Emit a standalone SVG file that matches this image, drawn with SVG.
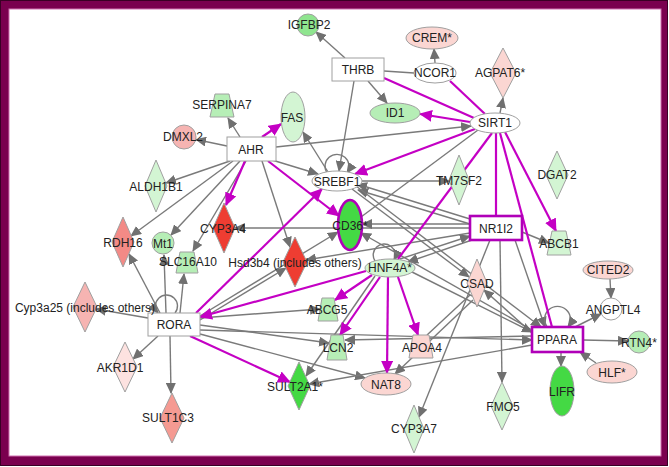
<svg xmlns="http://www.w3.org/2000/svg" width="669" height="467" viewBox="0 0 669 467">
<style>
text{font-family:"Liberation Sans",Arial,sans-serif;font-size:12px;fill:#222;text-anchor:middle}
.g{stroke:#7a7a7a;stroke-width:1.4;fill:none}
.m{stroke:#c400c4;stroke-width:2.2;fill:none}
.n{stroke:#a0a0a0;stroke-width:1}
.pb{stroke:#b000b8;stroke-width:2.6}
.w{fill:#fff}
.lg{fill:#d3f5d3}
.mg{fill:#b6eeb6}
.bg{fill:#44d944}
.rd{fill:#ee3d32}
.sa{fill:#f38a86}
.pk{fill:#fbd6d2}
.pk2{fill:#f6b4b2}
</style>
<defs>
<marker id="ag" markerUnits="userSpaceOnUse" markerWidth="11" markerHeight="10" refX="10" refY="5" orient="auto"><path d="M0,0 L11,5 L0,10 z" fill="#707070"/></marker>
<marker id="am" markerUnits="userSpaceOnUse" markerWidth="13" markerHeight="12" refX="12" refY="6" orient="auto"><path d="M0,0 L13,6 L0,12 z" fill="#c400c4"/></marker>
</defs>
<rect x="0.5" y="0.5" width="667" height="465" fill="#7a004f" stroke="#3a0025"/>
<rect x="9" y="9" width="652" height="447" fill="#fff" stroke="#d070b0" stroke-width="1"/>
<g id="connectors">
<line class="g" x1="345" y1="58" x2="316" y2="32" marker-end="url(#ag)"/>
<line class="g" x1="368" y1="81" x2="387" y2="103" marker-end="url(#ag)"/>
<line class="g" x1="384" y1="71" x2="414" y2="73"/>
<line class="g" x1="435" y1="63" x2="434" y2="49" marker-end="url(#ag)"/>
<line class="g" x1="500" y1="113" x2="503" y2="98" marker-end="url(#ag)"/>
<line class="g" x1="354" y1="81" x2="339" y2="171" marker-end="url(#ag)"/>
<line class="g" x1="240" y1="137" x2="228" y2="118" marker-end="url(#ag)"/>
<line class="g" x1="227" y1="146" x2="196" y2="139.5" marker-end="url(#ag)"/>
<line class="g" x1="276" y1="147" x2="471" y2="126" marker-end="url(#ag)"/>
<line class="g" x1="272" y1="160" x2="318" y2="174" marker-end="url(#ag)"/>
<line class="g" x1="230" y1="161" x2="166" y2="183" marker-end="url(#ag)"/>
<line class="g" x1="233" y1="161" x2="131" y2="236" marker-end="url(#ag)"/>
<line class="g" x1="240" y1="161" x2="171" y2="235" marker-end="url(#ag)"/>
<line class="g" x1="246" y1="161" x2="193" y2="251" marker-end="url(#ag)"/>
<line class="g" x1="262" y1="161" x2="290" y2="247" marker-end="url(#ag)"/>
<line class="g" x1="328" y1="172" x2="303" y2="132" marker-end="url(#ag)"/>
<line class="g" x1="362" y1="181" x2="449" y2="181" marker-end="url(#ag)"/>
<path class="g" d="M327 173 A12 12 0 1 1 347 173" marker-end="url(#ag)"/>
<line class="g" x1="470" y1="219" x2="357" y2="184" marker-end="url(#ag)"/>
<line class="g" x1="470" y1="224" x2="358" y2="190" marker-end="url(#ag)"/>
<line class="g" x1="352" y1="189" x2="469" y2="277" marker-end="url(#ag)"/>
<line class="g" x1="356" y1="186" x2="541" y2="327" marker-end="url(#ag)"/>
<line class="g" x1="470" y1="228" x2="235" y2="228" marker-end="url(#ag)"/>
<line class="g" x1="470" y1="224" x2="362" y2="224" marker-end="url(#ag)"/>
<line class="g" x1="522" y1="232" x2="549" y2="243" marker-end="url(#ag)"/>
<line class="g" x1="472" y1="240" x2="408" y2="262" marker-end="url(#ag)"/>
<line class="g" x1="400" y1="259" x2="470" y2="236" marker-end="url(#ag)"/>
<line class="g" x1="500" y1="240" x2="502" y2="382" marker-end="url(#ag)"/>
<line class="g" x1="490" y1="240" x2="419" y2="417" marker-end="url(#ag)"/>
<line class="g" x1="515" y1="240" x2="545" y2="327" marker-end="url(#ag)"/>
<line class="g" x1="470" y1="233" x2="306" y2="260" marker-end="url(#ag)"/>
<line class="g" x1="478" y1="130" x2="361" y2="217"/>
<path class="g" d="M375 261 A11 11 0 1 1 394 260" marker-end="url(#ag)"/>
<line class="g" x1="532" y1="330" x2="361" y2="233" marker-end="url(#ag)"/>
<line class="g" x1="532" y1="333" x2="484" y2="290" marker-end="url(#ag)"/>
<line class="g" x1="412" y1="272" x2="532" y2="332" marker-end="url(#ag)"/>
<line class="g" x1="575" y1="327" x2="601" y2="314" marker-end="url(#ag)"/>
<line class="g" x1="610" y1="279" x2="611" y2="298" marker-end="url(#ag)"/>
<line class="g" x1="583" y1="340" x2="628" y2="341" marker-end="url(#ag)"/>
<line class="g" x1="596" y1="363" x2="580" y2="352" marker-end="url(#ag)"/>
<line class="g" x1="561" y1="352" x2="561" y2="366" marker-end="url(#ag)"/>
<path class="g" d="M547 327 A13 13 0 1 1 568 327" marker-end="url(#ag)"/>
<line class="g" x1="148" y1="318" x2="96" y2="309" marker-end="url(#ag)"/>
<path class="g" d="M175 313 A11 11 0 1 0 158 313" marker-end="url(#ag)"/>
<line class="g" x1="160" y1="313" x2="129" y2="254" marker-end="url(#ag)"/>
<line class="g" x1="166" y1="313" x2="164" y2="255" marker-end="url(#ag)"/>
<line class="g" x1="180" y1="313" x2="184" y2="274" marker-end="url(#ag)"/>
<line class="g" x1="158" y1="336" x2="133" y2="359" marker-end="url(#ag)"/>
<line class="g" x1="170" y1="336" x2="171" y2="393" marker-end="url(#ag)"/>
<line class="g" x1="200" y1="318" x2="320" y2="309" marker-end="url(#ag)"/>
<line class="g" x1="200" y1="325" x2="329" y2="343" marker-end="url(#ag)"/>
<line class="g" x1="200" y1="330" x2="532" y2="340" marker-end="url(#ag)"/>
<line class="g" x1="200" y1="334" x2="365" y2="378" marker-end="url(#ag)"/>
<line class="g" x1="200" y1="316" x2="338" y2="232" marker-end="url(#ag)"/>
<line class="g" x1="200" y1="320" x2="286" y2="268" marker-end="url(#ag)"/>
<line class="g" x1="375" y1="276" x2="306" y2="376" marker-end="url(#ag)"/>
<line class="g" x1="532" y1="345" x2="309" y2="384" marker-end="url(#ag)"/>
<line class="g" x1="473" y1="300" x2="395" y2="374" marker-end="url(#ag)"/>
<line class="g" x1="470" y1="295" x2="427" y2="335"/>
<line class="g" x1="532" y1="336" x2="345" y2="340" marker-end="url(#ag)"/>
<line class="m" x1="470" y1="122" x2="420" y2="114" marker-end="url(#am)"/>
<line class="m" x1="474" y1="118" x2="384" y2="78"/>
<line class="m" x1="485" y1="114" x2="450" y2="81"/>
<line class="m" x1="475" y1="129" x2="355" y2="174" marker-end="url(#am)"/>
<line class="m" x1="492" y1="133" x2="398" y2="259"/>
<line class="m" x1="496" y1="133" x2="496" y2="216"/>
<line class="m" x1="505" y1="132" x2="556" y2="231" marker-end="url(#am)"/>
<line class="m" x1="500" y1="133" x2="552" y2="327"/>
<line class="m" x1="262" y1="137" x2="281" y2="124" marker-end="url(#am)"/>
<line class="m" x1="245" y1="161" x2="226" y2="205" marker-end="url(#am)"/>
<line class="m" x1="268" y1="161" x2="339" y2="216" marker-end="url(#am)"/>
<line class="m" x1="196" y1="313" x2="322" y2="189" marker-end="url(#am)"/>
<line class="m" x1="366" y1="271" x2="200" y2="317" marker-end="url(#am)"/>
<line class="m" x1="372" y1="275" x2="335" y2="300" marker-end="url(#am)"/>
<line class="m" x1="380" y1="277" x2="340" y2="335" marker-end="url(#am)"/>
<line class="m" x1="388" y1="277" x2="387" y2="373" marker-end="url(#am)"/>
<line class="m" x1="398" y1="277" x2="418" y2="335" marker-end="url(#am)"/>
<line class="m" x1="190" y1="336" x2="290" y2="382" marker-end="url(#am)"/>
</g>
<g id="IGFBP2"><circle class="n mg" cx="308" cy="25" r="11" style="fill:#8fe58f"/><text x="309" y="29">IGFBP2</text></g>
<g id="THRB"><rect class="n w" x="332" y="58" width="52" height="23"/><text x="358" y="74">THRB</text></g>
<g id="CREM"><ellipse class="n pk" cx="432" cy="38" rx="26" ry="11"/><text x="432" y="42">CREM*</text></g>
<g id="NCOR1"><ellipse class="n w" cx="435" cy="73" rx="21" ry="10"/><text x="435" y="77">NCOR1</text></g>
<g id="AGPAT6"><path class="n pk" d="M503 48 L516 73 L503 98 L490 73 Z"/><text x="500" y="77">AGPAT6*</text></g>
<g id="ID1"><ellipse class="n mg" cx="395" cy="113" rx="25" ry="10"/><text x="395" y="117">ID1</text></g>
<g id="SIRT1"><ellipse class="n w" cx="495" cy="123" rx="25" ry="10"/><text x="495" y="127">SIRT1</text></g>
<g id="SERPINA7"><path class="n mg" d="M215 94 L229 94 L234 117 L210 117 Z"/><text x="222" y="109">SERPINA7</text></g>
<g id="FAS"><ellipse class="n lg" cx="293" cy="117" rx="12" ry="25"/><text x="292" y="122">FAS</text></g>
<g id="DMXL2"><circle class="n pk2" cx="184" cy="137" r="12"/><text x="183" y="141">DMXL2</text></g>
<g id="AHR"><rect class="n w" x="227" y="137" width="49" height="24"/><text x="251" y="154">AHR</text></g>
<g id="SREBF1"><ellipse class="n w" cx="337" cy="181" rx="25" ry="10"/><text x="337" y="186">SREBF1</text></g>
<g id="TM7SF2"><path class="n lg" d="M459 155 L469 180 L459 205 L449 180 Z"/><text x="459" y="185">TM7SF2</text></g>
<g id="DGAT2"><path class="n lg" d="M557 151 L568 175 L557 199 L546 175 Z"/><text x="557" y="179">DGAT2</text></g>
<g id="ALDH1B1"><path class="n lg" d="M156 160 L167 186 L156 212 L145 186 Z"/><text x="156" y="191">ALDH1B1</text></g>
<g id="RDH16"><path class="n sa" d="M123 217 L134 242 L123 267 L112 242 Z"/><text x="123" y="247">RDH16</text></g>
<g id="Mt1"><circle class="n mg" cx="163" cy="243" r="11"/><text x="163" y="248">Mt1</text></g>
<g id="SLC16A10"><path class="n mg" d="M180 252 L194 252 L198 273 L176 273 Z"/><text x="188" y="266">SLC16A10</text></g>
<g id="CYP3A4"><path class="n rd" d="M224 203 L235 228 L224 253 L213 228 Z"/><text x="223" y="233">CYP3A4</text></g>
<g id="CD36"><ellipse class="pb bg" cx="350" cy="225" rx="12" ry="25"/><text x="350" y="230">CD36*</text></g>
<g id="Hsd3b4"><path class="n rd" d="M295 237 L307 262 L295 287 L283 262 Z"/><text x="295" y="267">Hsd3b4 (includes others)</text></g>
<g id="NR1I2"><rect class="pb w" x="470" y="216" width="52" height="24"/><text x="496" y="233">NR1I2</text></g>
<g id="ABCB1"><path class="n lg" d="M552 231 L566 231 L571 255 L547 255 Z"/><text x="559" y="248">ABCB1</text></g>
<g id="CITED2"><ellipse class="n pk" cx="608" cy="270" rx="25" ry="9"/><text x="608" y="274">CITED2</text></g>
<g id="ANGPTL4"><circle class="n w" cx="611" cy="309" r="11"/><text x="613" y="314">ANGPTL4</text></g>
<g id="HNF4A"><ellipse class="n lg" cx="390" cy="268" rx="25" ry="9"/><text x="390" y="272">HNF4A*</text></g>
<g id="CSAD"><path class="n pk" d="M477 259 L487 283 L477 307 L467 283 Z"/><text x="477" y="288">CSAD</text></g>
<g id="ABCG5"><path class="n mg" d="M322 298 L334 298 L338 321 L318 321 Z"/><text x="327" y="314">ABCG5</text></g>
<g id="RORA"><rect class="n w" x="148" y="313" width="52" height="23"/><text x="174" y="329">RORA</text></g>
<g id="Cyp3a25"><path class="n pk2" d="M85 282 L97 307 L85 332 L73 307 Z"/><text x="85" y="312">Cyp3a25 (includes others)</text></g>
<g id="AKR1D1"><path class="n pk" d="M125 342 L137 367 L125 392 L113 367 Z" style="fill:#fde2e0"/><text x="120" y="372">AKR1D1</text></g>
<g id="SULT1C3"><path class="n sa" d="M172 393 L184 418 L172 443 L160 418 Z" style="fill:#f59a92"/><text x="168" y="422">SULT1C3</text></g>
<g id="LCN2"><path class="n mg" d="M331 335 L343 335 L347 360 L327 360 Z"/><text x="338" y="352">LCN2</text></g>
<g id="SULT2A1"><path class="n bg" d="M299 362 L310 386 L299 410 L288 386 Z"/><text x="295" y="391">SULT2A1*</text></g>
<g id="APOA4"><path class="n pk" d="M413 335 L429 335 L433 358 L409 358 Z"/><text x="422" y="352">APOA4</text></g>
<g id="NAT8"><ellipse class="n pk" cx="386" cy="384" rx="25" ry="11"/><text x="386" y="389">NAT8</text></g>
<g id="CYP3A7"><path class="n lg" d="M414 405 L424 429 L414 453 L404 429 Z"/><text x="414" y="433">CYP3A7</text></g>
<g id="FMO5"><path class="n lg" d="M502 382 L513 406 L502 430 L491 406 Z"/><text x="503" y="411">FMO5</text></g>
<g id="PPARA"><rect class="pb w" x="532" y="327" width="51" height="25"/><text x="557" y="344">PPARA</text></g>
<g id="RTN4"><circle class="n mg" cx="639" cy="342" r="11"/><text x="639" y="347">RTN4*</text></g>
<g id="HLF"><ellipse class="n pk" cx="612" cy="372" rx="25" ry="11"/><text x="612" y="377">HLF*</text></g>
<g id="LIFR"><ellipse class="n bg" cx="562" cy="391" rx="12" ry="25"/><text x="562" y="396">LIFR</text></g>
</svg>
